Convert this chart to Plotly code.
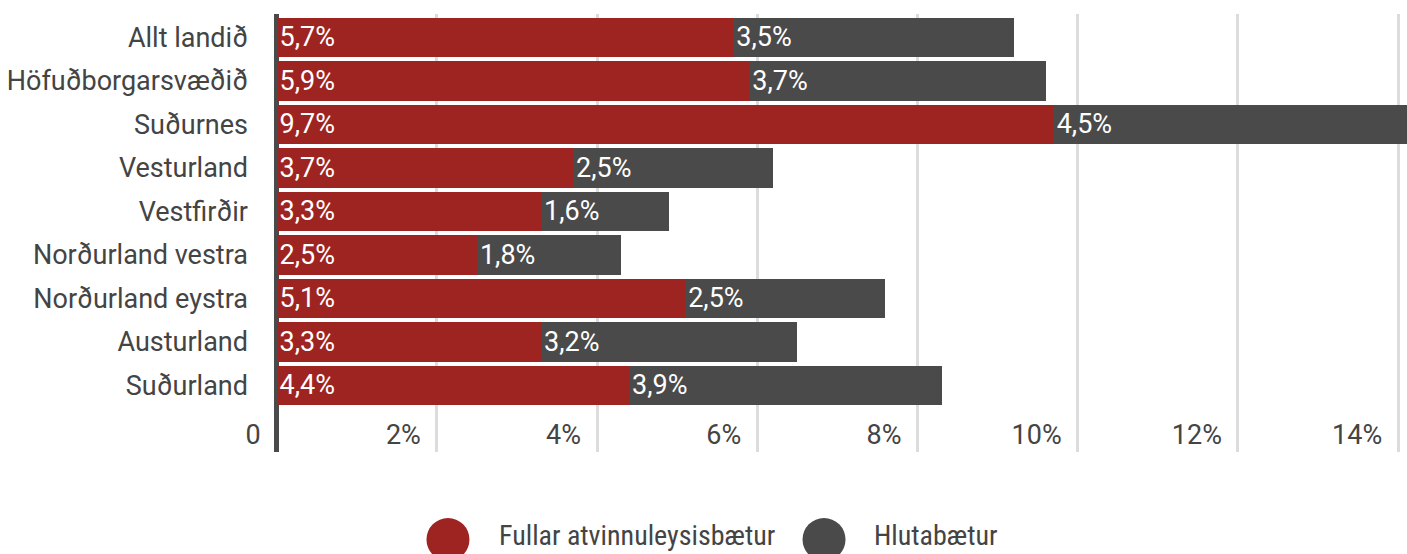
import plotly.graph_objects as go

# ── Data ─────────────────────────────────────────────────────────────────────
regions = [
    'Allt landið', 'Höfuðborgarsvæðið', 'Suðurnes', 'Vesturland', 'Vestfirðir',
    'Norðurland vestra', 'Norðurland eystra', 'Austurland', 'Suðurland',
]
full_benefits = [5.7, 5.9, 9.7, 3.7, 3.3, 2.5, 5.1, 3.3, 4.4]
partial_benefits = [3.5, 3.7, 4.5, 2.5, 1.6, 1.8, 2.5, 3.2, 3.9]
tick_vals = [0, 2, 4, 6, 8, 10, 12, 14]
tick_text = ['0', '2%', '4%', '6%', '8%', '10%', '12%', '14%']

RED = '#9e2421'
DARK = '#4a4a4a'
TEXT = '#444444'
FONT = 'Roboto'


def pct(v):
    return f"{v:.1f}".replace('.', ',') + '%'


fig = go.Figure()

for name, vals, color in [
    ('Fullar atvinnuleysisbætur', full_benefits, RED),
    ('Hlutabætur', partial_benefits, DARK),
]:
    fig.add_trace(go.Bar(
        name=name, y=regions, x=vals, orientation='h',
        marker=dict(color=color, line=dict(width=0)),
        text=[pct(v) for v in vals],
        textposition='inside', insidetextanchor='start',
        textfont=dict(family=FONT, size=27, color='white'),
        constraintext='none',
        hovertemplate='<b>%{y}</b><br>' + name + ': %{text}<extra></extra>',
    ))

fig.update_layout(
    barmode='stack', bargap=0.09,
    width=1407, height=554,
    margin=dict(l=275, r=0, t=14, b=102, autoexpand=False),
    paper_bgcolor='white', plot_bgcolor='white',
    font=dict(family=FONT, size=27, color=TEXT),
    showlegend=False,
    xaxis=dict(
        range=[-0.02, 14.11], automargin=False,
        tickvals=tick_vals, ticktext=tick_text,
        ticklabelposition='inside left', ticklabeloverflow='allow',
        ticklabelshift=-16, ticklabelstandoff=-3,
        tickfont=dict(family=FONT, size=27, color=TEXT),
        showgrid=True, gridcolor='#dcdcdc', gridwidth=3,
        zeroline=True, zerolinecolor=DARK, zerolinewidth=5,
        showline=False, fixedrange=True,
    ),
    yaxis=dict(
        type='category', categoryorder='array', categoryarray=regions,
        range=[9.53, -0.54], automargin=False,
        ticks='', ticklabelstandoff=26,
        tickfont=dict(family=FONT, size=27, color=TEXT),
        showgrid=False, zeroline=False, showline=False, fixedrange=True,
    ),
)

# Legend drawn manually: large round swatches + labels
legend_items = [
    (0.1528, 0.1961, RED, 'Fullar atvinnuleysisbætur'),
    (0.4850, 0.5274, DARK, 'Hlutabætur'),
]
for cx, tx, color, label in legend_items:
    fig.add_shape(
        type='circle', xref='paper', yref='paper',
        xsizemode='pixel', ysizemode='pixel',
        xanchor=cx, yanchor=-0.1998,
        x0=-21.5, x1=21.5, y0=-21.5, y1=21.5,
        fillcolor=color, line=dict(width=0),
    )
    fig.add_annotation(
        x=tx, y=-0.19, xref='paper', yref='paper',
        xanchor='left', yanchor='middle', showarrow=False,
        text=label,
        font=dict(family='Liberation Sans Narrow, Roboto Condensed, Roboto', size=28, color=TEXT),
    )

# page body has a default 8px margin; drop it so the figure sits at the corner
fig.write_html(
    "out.html",
    config={'displayModeBar': False},
    post_script="document.body.style.margin='0';",
)
